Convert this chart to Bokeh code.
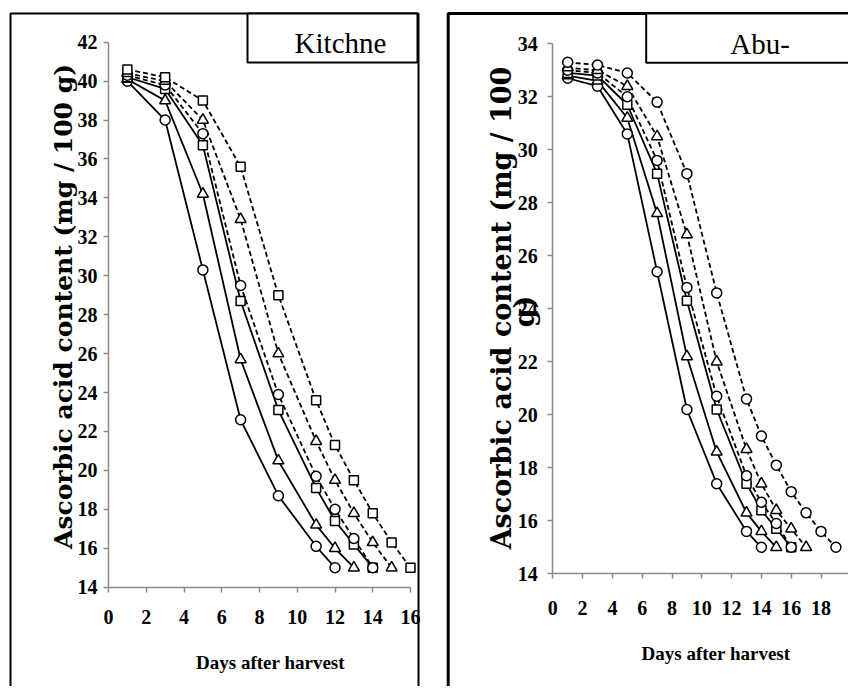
import math
from bokeh.plotting import figure
from bokeh.layouts import row
from bokeh.models import BoxAnnotation, Label, FixedTicker, Range1d
from bokeh.embed import file_html
from bokeh.resources import INLINE

# ---------------- Kitchner panel data ----------------
kit_title = "Kitchne"
kit_x_ticks = [0, 2, 4, 6, 8, 10, 12, 14, 16]
kit_y_ticks = [14, 16, 18, 20, 22, 24, 26, 28, 30, 32, 34, 36, 38, 40, 42]

kit_s_circle_days = [1, 3, 5, 7, 9, 11, 12]
kit_s_circle_vals = [40.0, 38.0, 30.3, 22.6, 18.7, 16.1, 15.0]
kit_s_triangle_days = [1, 3, 5, 7, 9, 11, 12, 13]
kit_s_triangle_vals = [40.1, 39.0, 34.2, 25.7, 20.5, 17.2, 16.0, 15.0]
kit_s_square_days = [1, 3, 5, 7, 9, 11, 12, 13, 14]
kit_s_square_vals = [40.2, 39.6, 36.7, 28.7, 23.1, 19.1, 17.4, 16.2, 15.0]
kit_d_circle_days = [1, 3, 5, 7, 9, 11, 12, 13, 14]
kit_d_circle_vals = [40.3, 39.8, 37.3, 29.5, 23.9, 19.7, 18.0, 16.5, 15.0]
kit_d_triangle_days = [1, 3, 5, 7, 9, 11, 12, 13, 14, 15]
kit_d_triangle_vals = [40.4, 40.0, 38.0, 32.9, 26.0, 21.5, 19.5, 17.8, 16.3, 15.0]
kit_d_square_days = [1, 3, 5, 7, 9, 11, 12, 13, 14, 15, 16]
kit_d_square_vals = [40.6, 40.2, 39.0, 35.6, 29.0, 23.6, 21.3, 19.5, 17.8, 16.3, 15.0]

# ---------------- Abu- panel data ----------------
abu_title = "Abu-"
abu_x_ticks = [0, 2, 4, 6, 8, 10, 12, 14, 16, 18, 20]
abu_y_ticks = [14, 16, 18, 20, 22, 24, 26, 28, 30, 32, 34]

abu_s_circle_days = [1, 3, 5, 7, 9, 11, 13, 14]
abu_s_circle_vals = [32.7, 32.4, 30.6, 25.4, 20.2, 17.4, 15.6, 15.0]
abu_s_triangle_days = [1, 3, 5, 7, 9, 11, 13, 14, 15]
abu_s_triangle_vals = [32.8, 32.6, 31.2, 27.6, 22.2, 18.6, 16.3, 15.6, 15.0]
abu_s_square_days = [1, 3, 5, 7, 9, 11, 13, 14, 15, 16]
abu_s_square_vals = [32.9, 32.8, 31.7, 29.1, 24.3, 20.2, 17.4, 16.4, 15.7, 15.0]
abu_d_circle_days = [1, 3, 5, 7, 9, 11, 13, 14, 15, 16]
abu_d_circle_vals = [33.0, 32.9, 32.0, 29.6, 24.8, 20.7, 17.7, 16.7, 15.9, 15.0]
abu_d_triangle_days = [1, 3, 5, 7, 9, 11, 13, 14, 15, 16, 17]
abu_d_triangle_vals = [33.1, 33.0, 32.4, 30.5, 26.8, 22.0, 18.7, 17.4, 16.4, 15.7, 15.0]
abu_d_circle2_days = [1, 3, 5, 7, 9, 11, 13, 14, 15, 16, 17, 18, 19]
abu_d_circle2_vals = [33.3, 33.2, 32.9, 31.8, 29.1, 24.6, 20.6, 19.2, 18.1, 17.1, 16.3, 15.6, 15.0]

y_title = "Ascorbic acid content (mg / 100 g)"
y_title_line1 = "Ascorbic acid content (mg / 100"
y_title_line2 = "g)"
x_title = "Days after harvest"

AX = "#8a8a8a"
TICK_FONT = "Liberation Serif"
TITLE_FONT = "DejaVu Serif"
H = 686


class Panel:
    """Figure whose frame fills the canvas; ranges chosen so the axes sit where wanted."""

    def __init__(self, width, axis_px, px_per_x, top_val, top_px, bot_val, bot_px):
        self.xs = px_per_x
        self.ys = (bot_px - top_px) / (top_val - bot_val)
        self.x0 = -axis_px / self.xs
        self.x1 = (width - axis_px) / self.xs
        self.y1 = top_val + top_px / self.ys
        self.y0 = bot_val - (H - bot_px) / self.ys
        p = figure(width=width, height=H, output_backend="svg", toolbar_location=None,
                   x_range=Range1d(self.x0, self.x1), y_range=Range1d(self.y0, self.y1),
                   min_border_left=0, min_border_right=0, min_border_top=0,
                   min_border_bottom=0, background_fill_color="white",
                   border_fill_color="white")
        p.title.visible = False
        p.xgrid.grid_line_color = None
        p.ygrid.grid_line_color = None
        p.outline_line_color = None
        self.p = p

    def X(self, px):
        return self.x0 + px / self.xs

    def Y(self, py):
        return self.y1 - py / self.ys


def style_axes(pn, xticks, yticks, xstandoff, ystandoff, bot_val):
    p = pn.p
    for ax in (p.xaxis, p.yaxis):
        ax.axis_line_color = AX
        ax.axis_line_width = 1.5
        ax.major_tick_line_color = AX
        ax.major_tick_line_width = 1.5
        ax.major_tick_in = 0
        ax.major_tick_out = 5
        ax.minor_tick_line_color = None
        ax.major_label_text_font = TICK_FONT
        ax.major_label_text_font_style = "bold"
        ax.major_label_text_font_size = "20px"
        ax.major_label_text_color = "black"
    p.xaxis.ticker = FixedTicker(ticks=xticks)
    p.yaxis.ticker = FixedTicker(ticks=yticks)
    p.xaxis.bounds = (xticks[0], xticks[-1])
    p.yaxis.bounds = (yticks[0], yticks[-1])
    p.xaxis.fixed_location = bot_val
    p.yaxis.fixed_location = 0
    p.xaxis.major_label_standoff = xstandoff
    p.yaxis.major_label_standoff = ystandoff


def add_series(p, series):
    for days, vals, marker, dashed in series:
        p.line(days, vals, line_color="black", line_width=1.8,
               line_dash="5 3" if dashed else "solid")
    for days, vals, marker, dashed in series:
        size = {"circle": 10, "triangle": 11, "square": 9}[marker]
        p.scatter(days, vals, marker=marker, size=size, fill_color="white",
                  line_color="black", line_width=1.5)


def box(pn, l, r, t, b, lw, fill):
    pn.p.add_layout(BoxAnnotation(left=pn.X(l), right=pn.X(r), top=pn.Y(t), bottom=pn.Y(b),
                                  fill_color=fill, fill_alpha=1 if fill else 0,
                                  line_color="black", line_width=lw, line_alpha=1))


def label(pn, px, py, text, font, size, bold=False, angle=0.0):
    pn.p.add_layout(Label(x=pn.X(px), y=pn.Y(py), text=text, angle=angle,
                          text_font=font, text_font_size=size,
                          text_font_style="bold" if bold else "normal",
                          text_align="center", text_baseline="middle",
                          text_color="black"))


# ---------------- Left panel (canvas x = page x) ----------------
L = Panel(430, 108, 18.875, 42, 41.7, 14, 586.7)
style_axes(L, kit_x_ticks, kit_y_ticks, 18, 6, 14)
box(L, 10, 418, 13, H + 20, 2, None)
add_series(L.p, [
    (kit_s_circle_days, kit_s_circle_vals, "circle", False),
    (kit_s_triangle_days, kit_s_triangle_vals, "triangle", False),
    (kit_s_square_days, kit_s_square_vals, "square", False),
    (kit_d_circle_days, kit_d_circle_vals, "circle", True),
    (kit_d_triangle_days, kit_d_triangle_vals, "triangle", True),
    (kit_d_square_days, kit_d_square_vals, "square", True),
])
box(L, 247, 417, 13, 62, 2, "white")
label(L, 340, 42.5, kit_title, "Liberation Serif", "29px")
label(L, 270, 662, x_title, "Liberation Serif", "19px", bold=True)
label(L, 63, 306, y_title, TITLE_FONT, "25px", bold=True, angle=math.pi / 2)

# ---------------- Right panel (canvas x = page x - 430) ----------------
R = Panel(418, 122.3, 14.9, 34, 43.3, 14, 573.3)
style_axes(R, abu_x_ticks, abu_y_ticks, 22, 10, 14)
box(R, 17.7, 460, 13, H + 20, 3, None)
add_series(R.p, [
    (abu_s_circle_days, abu_s_circle_vals, "circle", False),
    (abu_s_triangle_days, abu_s_triangle_vals, "triangle", False),
    (abu_s_square_days, abu_s_square_vals, "square", False),
    (abu_d_circle_days, abu_d_circle_vals, "circle", True),
    (abu_d_triangle_days, abu_d_triangle_vals, "triangle", True),
    (abu_d_circle2_days, abu_d_circle2_vals, "circle", True),
])
box(R, 215.7, 460, 13, 62.3, 2, "white")
label(R, 329.5, 43.5, abu_title, "Liberation Serif", "29px")
label(R, 285.5, 653, x_title, "Liberation Serif", "19px", bold=True)
label(R, 71, 307.5, y_title_line1, TITLE_FONT, "27px", bold=True, angle=math.pi / 2)
label(R, 94, 311, y_title_line2, TITLE_FONT, "27px", bold=True, angle=math.pi / 2)

layout = row(L.p, R.p)
open("out.html", "w").write(file_html(layout, INLINE))
